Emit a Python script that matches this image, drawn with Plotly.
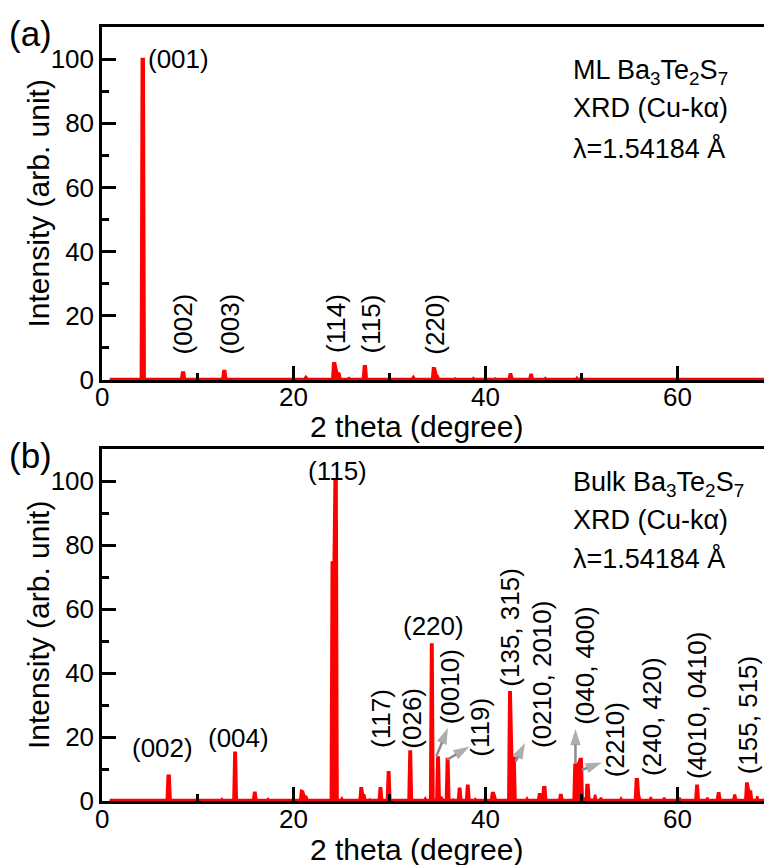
import plotly.graph_objects as go

# ---------------- data ----------------
ml_2theta = [0.8, 4.05, 4.15, 4.35, 4.45, 8.25, 8.35, 8.55, 8.65, 12.55, 12.65, 12.85, 12.95,
             14.7, 14.85, 15.0, 17.0, 17.1, 17.2, 19.1, 19.2, 19.3, 21.1, 21.25, 21.45,
             24.0, 24.1, 24.3, 24.5, 24.75, 24.85, 25.6, 25.75, 25.9, 27.2, 27.3, 27.5, 27.6,
             28.5, 28.6, 28.7, 30.3, 30.4, 30.5, 32.3, 32.45, 32.6, 34.4, 34.5, 34.7, 34.85,
             35.0, 35.1, 36.7, 36.8, 36.9, 37.8, 37.9, 38.0, 38.6, 38.7, 38.8, 40.9, 41.0, 41.1,
             42.4, 42.5, 42.65, 42.8, 44.55, 44.65, 44.8, 44.9, 46.1, 46.2, 46.3, 47.1, 47.2,
             47.3, 49.4, 49.5, 49.6, 52.7, 52.8, 52.9, 55.8, 55.9, 56.0, 60.6, 60.7, 60.8,
             64.4, 64.5, 64.6, 67.0, 67.1, 67.2, 69.5]
ml_intensity = [0.3, 0.3, 100, 100, 0.3, 0.3, 2.3, 2.3, 0.3, 0.3, 2.8, 2.8, 0.3,
                0.3, 0.5, 0.3, 0.3, 0.4, 0.3, 0.3, 0.4, 0.3, 0.3, 1.0, 0.3,
                0.3, 5.2, 5.2, 2.3, 2.0, 0.4, 0.3, 0.6, 0.3, 0.3, 4.3, 4.3, 0.3,
                0.3, 0.5, 0.3, 0.3, 0.5, 0.3, 0.3, 1.0, 0.3, 0.3, 3.7, 3.6, 1.6,
                1.2, 0.3, 0.3, 0.5, 0.3, 0.3, 0.5, 0.3, 0.3, 0.6, 0.3, 0.3, 0.5, 0.3,
                0.3, 1.8, 1.8, 0.3, 0.3, 1.6, 1.6, 0.3, 0.3, 0.6, 0.3, 0.3, 0.4,
                0.3, 0.3, 0.7, 0.3, 0.3, 0.5, 0.3, 0.3, 0.4, 0.3, 0.3, 0.4, 0.3,
                0.3, 0.4, 0.3, 0.3, 0.4, 0.3, 0.3]

bulk_2theta = [0.8, 6.75, 6.85, 7.05, 7.15, 12.4, 12.5, 12.6, 13.7, 13.8, 13.95, 14.05,
               15.75, 15.85, 16.0, 16.1, 17.2, 17.3, 17.4, 18.4, 18.5, 18.6,
               20.65, 20.75, 20.95, 21.1, 21.3, 21.4, 23.85, 23.95, 24.15, 24.25, 24.45, 24.55,
               24.9, 25.0, 25.1, 26.85, 26.95, 27.1, 27.2, 27.35, 27.45, 27.8, 27.9, 28.0,
               28.85, 28.95, 29.1, 29.2, 29.7, 29.8, 29.95, 30.05, 31.0, 31.1, 31.2,
               31.95, 32.05, 32.2, 32.3, 33.6, 33.7, 33.8, 34.2, 34.3, 34.45, 34.55,
               34.85, 34.95, 35.1, 35.2, 35.4, 35.55, 35.85, 35.95, 36.1, 36.2, 36.5, 36.6, 36.7,
               37.1, 37.2, 37.35, 37.45, 37.95, 38.05, 38.2, 38.3, 38.8, 38.9, 39.0,
               40.55, 40.65, 40.85, 40.95, 41.05, 42.35, 42.45, 42.6, 42.75, 43.0, 43.1,
               44.2, 44.3, 44.4, 45.45, 45.55, 45.7, 45.9, 46.0, 46.2, 46.3,
               47.65, 47.75, 47.9, 48.0, 49.15, 49.25, 49.45, 49.7, 49.8, 50.0, 50.1,
               50.45, 50.5, 50.7, 50.8, 51.3, 51.4, 51.5, 51.9, 52.0, 52.1, 54.0, 54.1, 54.2,
               55.55, 55.65, 55.85, 55.95, 56.1, 57.1, 57.2, 57.3, 58.5, 58.6, 58.7,
               60.1, 60.2, 60.3, 61.85, 61.95, 62.1, 62.2, 63.0, 63.1, 63.2,
               64.1, 64.2, 64.35, 64.45, 65.8, 65.9, 66.0, 66.1, 67.05, 67.15, 67.3, 67.45,
               67.65, 67.75, 68.2, 68.3, 68.4, 69.5]
bulk_intensity = [0.3, 0.3, 7.9, 7.9, 0.3, 0.3, 0.6, 0.3, 0.3, 15.1, 15.1, 0.3,
                  0.3, 2.6, 2.6, 0.3, 0.3, 0.6, 0.3, 0.3, 0.4, 0.3,
                  0.3, 3.2, 3.0, 1.5, 1.3, 0.3, 0.3, 74.5, 74.5, 100, 100, 0.3,
                  0.3, 0.8, 0.3, 0.3, 4.0, 4.0, 2.0, 1.8, 0.3, 0.3, 0.5, 0.3,
                  0.3, 4.0, 4.0, 0.3, 0.3, 9.0, 9.0, 0.3, 0.3, 0.5, 0.3,
                  0.3, 15.5, 15.5, 0.3, 0.3, 0.8, 0.3, 0.3, 48.9, 48.9, 0.3,
                  0.3, 13.6, 13.6, 0.3, 1.0, 0.3, 0.3, 13.1, 13.1, 0.3, 0.3, 0.5, 0.3,
                  0.3, 3.8, 3.8, 0.3, 0.3, 4.8, 4.8, 0.3, 0.3, 0.6, 0.3,
                  0.3, 2.5, 2.5, 1.0, 0.3, 0.3, 34.0, 34.0, 13.5, 13.5, 0.3,
                  0.3, 0.8, 0.3, 0.3, 2.1, 2.1, 1.0, 4.3, 4.3, 0.3,
                  0.3, 1.9, 1.9, 0.3, 0.3, 11.3, 11.3, 12.0, 13.1, 13.1, 0.8,
                  0.8, 5.0, 5.0, 0.5, 0.3, 2.0, 0.3, 0.3, 1.0, 0.3, 0.3, 0.8, 0.3,
                  0.3, 6.8, 6.8, 2.0, 0.3, 0.3, 1.2, 0.3, 0.3, 1.0, 0.3,
                  0.3, 1.0, 0.3, 0.3, 4.8, 4.8, 0.3, 0.3, 1.0, 0.3,
                  0.3, 2.4, 2.4, 0.3, 0.3, 1.7, 1.7, 0.3, 0.3, 5.5, 5.5, 3.0,
                  3.0, 0.3, 0.3, 1.5, 0.3, 0.3]

# x tick labels
x_tick_values = [0, 20, 40, 60]
x_tick_text = ["0", "20", "40", "60"]

# peak labels: text, 2theta, intensity position of label centre
ml_label_text = ["(002)", "(003)", "(114)", "(115)", "(220)"]
ml_label_x = [8.4, 13.3, 24.4, 28.0, 34.7]
ml_label_y = [17.5, 17.5, 17.5, 17.5, 17.5]

bulk_flat_text = ["(002)", "(004)", "(115)", "(220)"]
bulk_flat_x = [6.35, 14.2, 24.5, 34.6]
bulk_flat_y = [16.6, 19.7, 103.1, 54.6]

bulk_rot_text = ["(117)", "(026)", "(0010)", "(119)", "(135, 315)", "(0210, 2010)",
                 "(040, 400)", "(2210)", "(240, 420)", "(4010, 0410)", "(155, 515)"]
bulk_rot_x = [29.1, 32.3, 36.3, 39.4, 42.5, 45.8, 50.4, 53.5, 57.3, 62.1, 67.3]
bulk_rot_y = [25.7, 26.0, 35.6, 22.9, 54.4, 39.5, 42.4, 19.1, 26.5, 29.9, 27.0]

# arrows: tail (x0, y0) -> head (x1, y1)
arrow_x0 = [34.85, 35.96, 43.1, 49.35, 50.0]
arrow_y0 = [14.0, 12.9, 12.3, 11.6, 9.7]
arrow_x1 = [36.05, 38.3, 44.1, 49.35, 52.1]
arrow_y1 = [22.8, 17.0, 18.1, 22.5, 12.0]

x_title = "2 theta (degree)"
y_title = "Intensity (arb. unit)"

# ---------------- figure ----------------
FONT = "Liberation Sans, Arial, sans-serif"
W, H = 764, 865
RED = "#ff0000"
GRAY = "#8c8c8c"

fig = go.Figure()
fig.add_trace(go.Scatter(x=ml_2theta, y=ml_intensity, mode="lines",
                         line=dict(color=RED, width=2.5), fill="tozeroy", fillcolor=RED,
                         xaxis="x", yaxis="y", showlegend=False, hoverinfo="skip"))
fig.add_trace(go.Scatter(x=bulk_2theta, y=bulk_intensity, mode="lines",
                         line=dict(color=RED, width=2.5), fill="tozeroy", fillcolor=RED,
                         xaxis="x2", yaxis="y2", showlegend=False, hoverinfo="skip"))

# gray arrows (line + arrow-head marker at the head point)
for x0, y0, x1, y1 in zip(arrow_x0, arrow_y0, arrow_x1, arrow_y1):
    fig.add_trace(go.Scatter(x=[x0, x1], y=[y0, y1], mode="lines+markers",
                             line=dict(color=GRAY, width=2.5),
                             marker=dict(symbol="arrow", size=[0, 17], color=GRAY,
                                         angleref="previous", line=dict(width=0)),
                             xaxis="x2", yaxis="y2", showlegend=False, hoverinfo="skip"))

def px_y(p):
    return 1 - p / H

xdom = [102 / W, 1.0]
top_dom = [px_y(380), px_y(27)]
bot_dom = [px_y(801), px_y(449)]

xcommon = dict(range=[0, 69], tickmode="array", tickvals=x_tick_values, showticklabels=False,
               ticks="inside", ticklen=14, tickwidth=2.5,
               tickcolor="black", showline=True, linecolor="black", linewidth=2.5,
               mirror=True, showgrid=False, zeroline=False, automargin=False,
               minor=dict(ticks="inside", ticklen=7, tickwidth=2.5, dtick=10, tick0=0,
                          tickcolor="black", showgrid=False))
ycommon = dict(range=[0, 110], tick0=0, dtick=20, ticks="inside", ticklen=14, tickwidth=2.5,
               tickcolor="black", showline=True, linecolor="black", linewidth=2.5,
               mirror=False, showgrid=False, zeroline=False, automargin=False,
               tickfont=dict(family=FONT, size=26, color="black"),
               minor=dict(ticks="inside", ticklen=7, tickwidth=2.5, dtick=10, tick0=0,
                          tickcolor="black", showgrid=False))

fig.update_layout(
    width=W, height=H, margin=dict(l=0, r=0, t=0, b=0, autoexpand=False),
    paper_bgcolor="white", plot_bgcolor="white", showlegend=False,
    xaxis=dict(xcommon, domain=xdom, anchor="y"),
    yaxis=dict(ycommon, domain=top_dom, anchor="x"),
    xaxis2=dict(xcommon, domain=xdom, anchor="y2"),
    yaxis2=dict(ycommon, domain=bot_dom, anchor="x2"),
)

ann = []
afont = dict(family=FONT, size=26, color="black")
tfont = dict(family=FONT, size=30, color="black")

# x tick labels (placed on each x axis)
for xr, yc in (("x", 397), ("x2", 819)):
    for v, t in zip(x_tick_values, x_tick_text):
        ann.append(dict(text=t, x=v, y=px_y(yc), xref=xr, yref="paper",
                        xanchor="center", yanchor="middle", showarrow=False,
                        font=dict(family=FONT, size=26, color="black")))

# axis titles
for yc in (427, 849):
    ann.append(dict(text=x_title, x=416 / W, y=px_y(yc), xref="paper", yref="paper",
                    xanchor="center", yanchor="middle", showarrow=False, font=tfont))
for yc in (203.5, 625):
    ann.append(dict(text=y_title, x=38 / W, y=px_y(yc), xref="paper", yref="paper",
                    textangle=-90, xanchor="center", yanchor="middle", showarrow=False,
                    font=tfont))

# panel (a)
ann.append(dict(text="(001)", x=4.6, y=100, xref="x", yref="y", xanchor="left",
                yanchor="middle", showarrow=False, font=afont))
for t, x, y in zip(ml_label_text, ml_label_x, ml_label_y):
    ann.append(dict(text=t, x=x, y=y, xref="x", yref="y", textangle=-90,
                    xanchor="center", yanchor="middle", showarrow=False, font=afont))
# panel (b)
for t, x, y in zip(bulk_flat_text, bulk_flat_x, bulk_flat_y):
    ann.append(dict(text=t, x=x, y=y, xref="x2", yref="y2", xanchor="center",
                    yanchor="middle", showarrow=False, font=afont))
for t, x, y in zip(bulk_rot_text, bulk_rot_x, bulk_rot_y):
    ann.append(dict(text=t, x=x, y=y, xref="x2", yref="y2", textangle=-90,
                    xanchor="center", yanchor="middle", showarrow=False, font=afont))

# info text
info_top = ["ML Ba<sub>3</sub>Te<sub>2</sub>S<sub>7</sub>", "XRD (Cu-kα)", "λ=1.54184 Å"]
info_bot = ["Bulk Ba<sub>3</sub>Te<sub>2</sub>S<sub>7</sub>", "XRD (Cu-kα)", "λ=1.54184 Å"]
top_rows = [72, 108, 148]
bot_rows = [484, 520, 558]
for t, r in zip(info_top, top_rows):
    ann.append(dict(text=t, x=571 / W, y=px_y(r), xref="paper", yref="paper",
                    xanchor="left", yanchor="middle", showarrow=False,
                    font=dict(family=FONT, size=27, color="black")))
for t, r in zip(info_bot, bot_rows):
    ann.append(dict(text=t, x=571 / W, y=px_y(r), xref="paper", yref="paper",
                    xanchor="left", yanchor="middle", showarrow=False,
                    font=dict(family=FONT, size=27, color="black")))

# panel labels
ann.append(dict(text="(a)", x=30 / W, y=px_y(34), xref="paper", yref="paper",
                xanchor="center", yanchor="middle", showarrow=False,
                font=dict(family=FONT, size=35, color="black")))
ann.append(dict(text="(b)", x=30 / W, y=px_y(456), xref="paper", yref="paper",
                xanchor="center", yanchor="middle", showarrow=False,
                font=dict(family=FONT, size=35, color="black")))

fig.update_layout(annotations=ann)
fig.write_html("out.html")
